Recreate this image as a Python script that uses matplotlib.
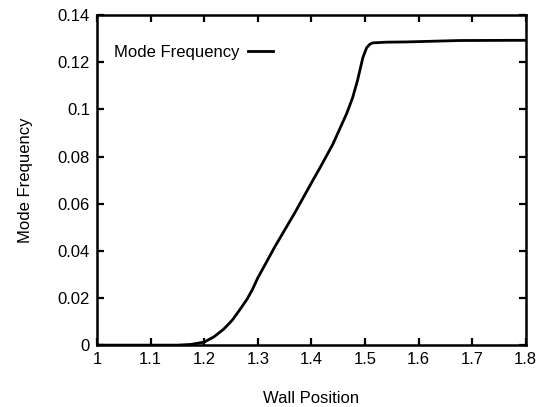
import matplotlib
matplotlib.use("Agg")
import matplotlib.pyplot as plt

# curve
wall_pos = [1.0, 1.10, 1.15, 1.175, 1.20, 1.218, 1.236, 1.252, 1.267, 1.280, 1.290, 1.300,
            1.332, 1.369, 1.403, 1.416, 1.440, 1.466, 1.477, 1.486, 1.496, 1.503, 1.509,
            1.514, 1.54, 1.577, 1.676, 1.8]
mode_freq = [0.0, 0.0, 0.0, 0.0003, 0.0013, 0.0035, 0.0067, 0.0105, 0.0152, 0.0195, 0.0236, 0.0285,
             0.0418, 0.0561, 0.0700, 0.0752, 0.0852, 0.0983, 0.1050, 0.1122, 0.1219, 0.1261, 0.1276,
             0.1282, 0.1285, 0.1286, 0.1292, 0.1293]

x_ticks = [1, 1.1, 1.2, 1.3, 1.4, 1.5, 1.6, 1.7, 1.8]
x_labels = ["1", "1.1", "1.2", "1.3", "1.4", "1.5", "1.6", "1.7", "1.8"]
y_ticks = [0, 0.02, 0.04, 0.06, 0.08, 0.1, 0.12, 0.14]
y_labels = ["0", "0.02", "0.04", "0.06", "0.08", "0.1", "0.12", "0.14"]

plt.rcParams['font.family'] = ['Liberation Sans', 'DejaVu Sans']

fig = plt.figure(figsize=(5.42, 4.07), dpi=100)
ax = fig.add_axes([0.179, 0.152, 0.791, 0.811])

ax.plot(wall_pos, mode_freq, color="black", linewidth=2.0, label="Mode Frequency",
        solid_joinstyle="round")

ax.set_xlim(1, 1.8)
ax.set_ylim(0, 0.14)
ax.set_xticks(x_ticks)
ax.set_xticklabels(x_labels)
ax.set_yticks(y_ticks)
ax.set_yticklabels(y_labels)
ax.tick_params(direction="in", top=True, right=True, length=5, width=1.6,
               labelsize=12, pad=5)
for s in ax.spines.values():
    s.set_linewidth(1.8)

ax.set_xlabel("Wall Position", fontsize=12, labelpad=17)
ax.set_ylabel("Mode Frequency", fontsize=12, labelpad=18)

ax.legend(loc="upper left", frameon=False, markerfirst=False, fontsize=12,
          handlelength=1.5, handletextpad=0.5, bbox_to_anchor=(0.005, 0.955))

fig.savefig("out.png", dpi=100)
